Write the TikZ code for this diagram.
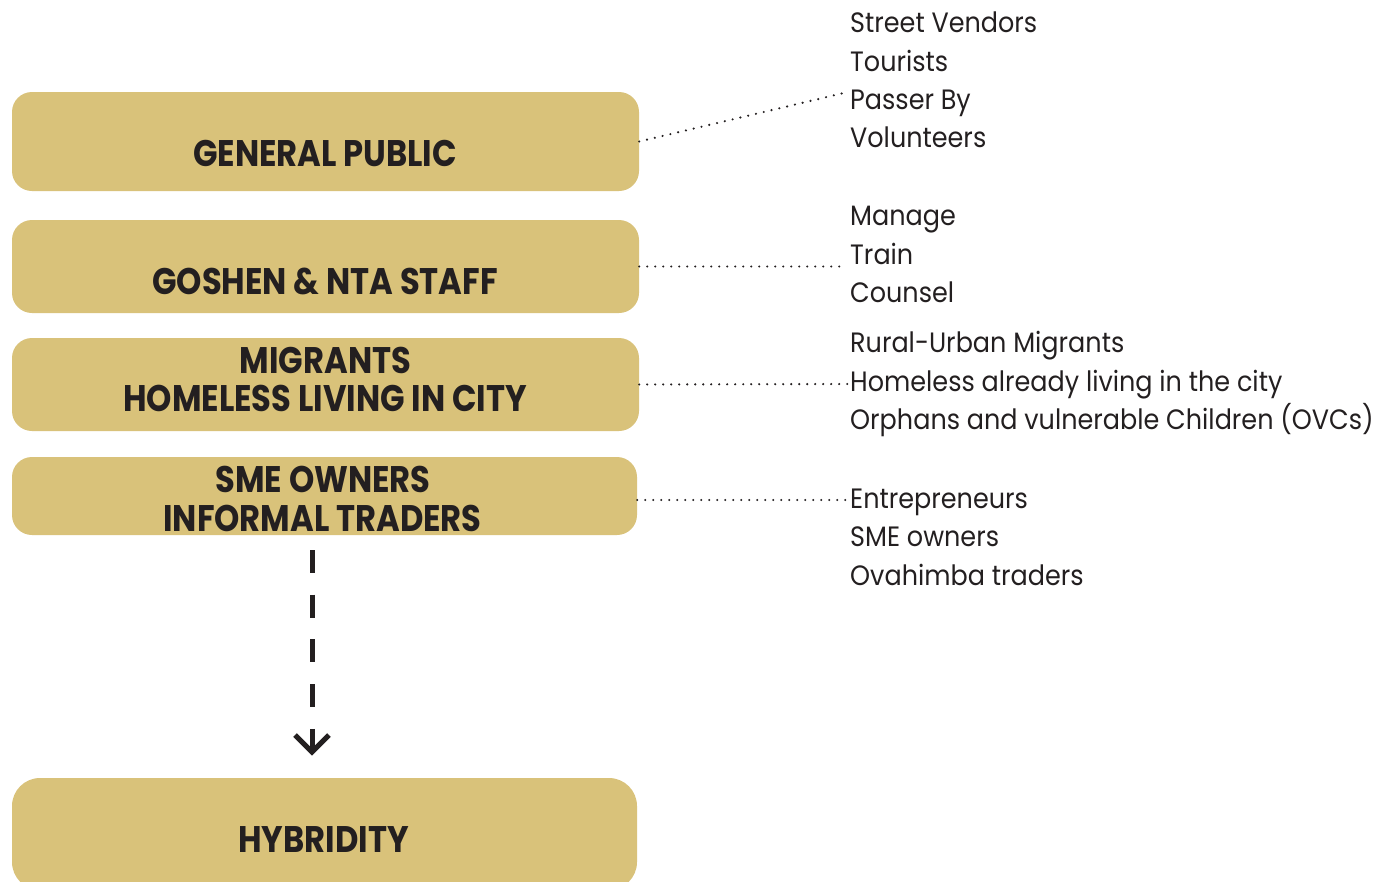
\documentclass[tikz,border=0pt]{standalone}
\usepackage{fontspec}
\setmainfont{Poppins}
\newfontfamily\bodyfont[FakeStretch=0.91]{Poppins}
\newfontfamily\titlefont[FakeStretch=0.87]{Poppins}
\definecolor{boxfill}{HTML}{D9C27A}
\definecolor{ink}{HTML}{231F20}
\tikzset{
  box/.style={fill=boxfill, draw=none, rounded corners=20pt, inner sep=0pt, minimum width=627pt},
  title/.style={anchor=base, inner sep=0pt, text=ink, font={\titlefont\bfseries\fontsize{37}{38}\selectfont}},
  item/.style={anchor=base west, inner sep=0pt, text=ink, font={\bodyfont\fontsize{28}{38.5}\selectfont}},
  dotline/.style={ink, line width=2.4pt, line cap=round, dash pattern=on 0pt off 8pt},
  dashline/.style={ink, line width=5pt, dash pattern=on 23pt off 21.7pt},
  chevron/.style={ink, line width=5pt, miter limit=10}
}
\begin{document}
\begin{tikzpicture}[x=1pt,y=-1pt]
\useasboundingbox (0,0) rectangle (1378,881);
\clip (0,0) rectangle (1378,881);
% boxes
\node[box, minimum height=99pt] (b1) at (325.5,141.5) {};
\node[box, minimum height=93pt] (b2) at (325.5,266.5) {};
\node[box, minimum height=93pt] (b3) at (325.5,384.5) {};
\node[box, minimum width=625pt, minimum height=78pt] (b4) at (324.5,496) {};
\node[box, minimum width=625pt, minimum height=112pt, rounded corners=28pt] (b5) at (324.5,834) {};
% titles
\node[title] (t1) at (325,166) {GENERAL PUBLIC};
\node[title] (t2) at (325,294) {GOSHEN \& NTA STAFF};
\node[title] (t3a) at (325.5,373) {MIGRANTS};
\node[title] (t3b) at (325,411) {HOMELESS LIVING IN CITY};
\node[title] (t4a) at (323,492) {SME OWNERS};
\node[title] (t4b) at (322.5,531) {INFORMAL TRADERS};
\node[title] (t5) at (323.5,852) {HYBRIDITY};
% right lists
\node[item] (s1) at (850,32) {Street Vendors};
\node[item] (s2) at (850,71) {Tourists};
\node[item] (s3) at (850,109) {Passer By};
\node[item] (s4) at (850,147) {Volunteers};
\node[item] (g1) at (850,225) {Manage};
\node[item] (g2) at (850,264) {Train};
\node[item] (g3) at (850,302) {Counsel};
\node[item] (m1) at (850,352) {Rural-Urban Migrants};
\node[item] (m2) at (850,391) {Homeless already living in the city};
\node[item] (m3) at (850,429) {Orphans and vulnerable Children (OVCs)};
\node[item] (e1) at (850,508) {Entrepreneurs};
\node[item] (e2) at (850,546) {SME owners};
\node[item] (e3) at (850,585) {Ovahimba traders};
% dotted connectors
\coordinate (c1) at (848,92);
\coordinate (c2) at (845,266.5);
\coordinate (c3) at (848,384);
\coordinate (c4) at (848,500);
\draw[dotline] (b1.east) -- (c1);
\draw[dotline] (b2.east) -- (c2);
\draw[dotline] (b3.east) -- (c3);
\draw[dotline] ([yshift=-4pt]b4.east) -- (c4);
% dashed arrow
\coordinate (a1) at (312,550);
\coordinate (a2) at (312,752);
\draw[dashline] (a1) -- (a2);
\draw[chevron] ([shift={(-17pt,17pt)}]a2) -- (a2) -- ([shift={(17pt,17pt)}]a2);
\end{tikzpicture}
\end{document}
